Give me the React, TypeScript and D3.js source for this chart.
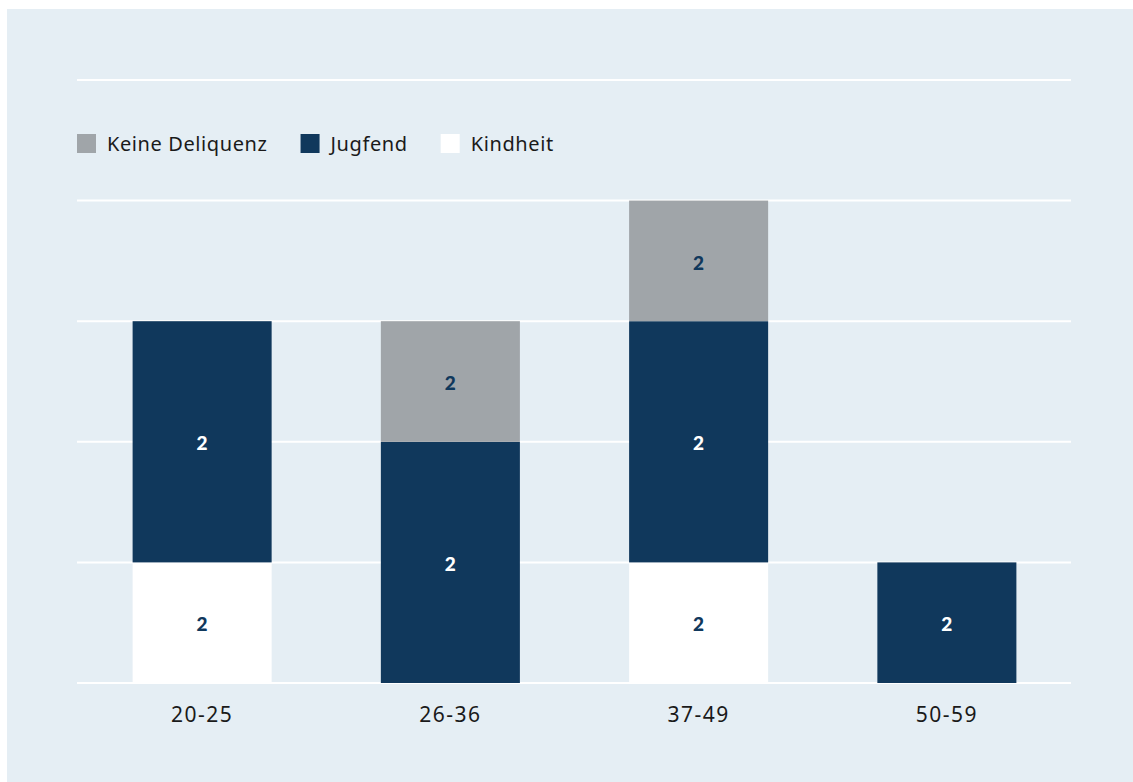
import * as React from 'react';
import * as d3 from 'd3';

const categories = ['20-25', '26-36', '37-49', '50-59'];
const seriesNames = ['Kindheit', 'Jugfend', 'Keine Deliquenz'];
const kindheit = [1, 0, 1, 0];
const jugfend = [2, 2, 2, 1];
const keineDeliquenz = [0, 1, 1, 0];
// the labels printed inside the segments
const segmentLabels = ['2', '2', '2'];
const legendOrder = ['Keine Deliquenz', 'Jugfend', 'Kindheit'];
const yTicks = [0, 1, 2, 3, 4, 5];

const colors: Record<string, string> = {
  'Keine Deliquenz': '#a0a5a9',
  Jugfend: '#10385c',
  Kindheit: '#ffffff',
};
const labelColors: Record<string, string> = {
  'Keine Deliquenz': '#10385c',
  Jugfend: '#ffffff',
  Kindheit: '#10385c',
};

const W = 1133;
const H = 782;
const margin = { left: 78, right: 62, top: 80, bottom: 99 };

export default function App() {
  const svgRef = React.useRef<SVGSVGElement>(null);

  React.useEffect(() => {
    if (!svgRef.current) return;
    const svg = d3.select(svgRef.current);
    svg.selectAll('*').remove();

    svg.append('rect').attr('x', 7).attr('y', 9).attr('width', W).attr('height', H).attr('fill', '#e5eef4');

    const x = d3
      .scaleBand()
      .domain(categories)
      .range([margin.left, W - margin.right])
      .paddingInner(0.44)
      .paddingOuter(0.22);
    const y = d3.scaleLinear().domain([0, 5]).range([H - margin.bottom, margin.top]);

    // gridlines
    svg
      .append('g')
      .selectAll('line')
      .data(yTicks)
      .enter()
      .append('line')
      .attr('x1', margin.left - 1)
      .attr('x2', W - margin.right)
      .attr('y1', (d) => y(d))
      .attr('y2', (d) => y(d))
      .attr('stroke', '#ffffff')
      .attr('stroke-width', 2);

    const rows = categories.map((c, i) => ({
      cat: c,
      Kindheit: kindheit[i],
      Jugfend: jugfend[i],
      'Keine Deliquenz': keineDeliquenz[i],
    }));
    const stack = d3.stack<any>().keys(seriesNames)(rows);

    stack.forEach((layer, li) => {
      const key = layer.key;
      const g = svg.append('g');
      const segs = layer.filter((d) => d[1] - d[0] > 0);
      g.selectAll('rect')
        .data(segs)
        .enter()
        .append('rect')
        .attr('x', (d) => x(d.data.cat)!)
        .attr('y', (d) => y(d[1]))
        .attr('width', x.bandwidth())
        .attr('height', (d) => y(d[0]) - y(d[1]))
        .attr('fill', colors[key]);
      g.selectAll('text')
        .data(segs)
        .enter()
        .append('text')
        .attr('x', (d) => x(d.data.cat)! + x.bandwidth() / 2)
        .attr('y', (d) => (y(d[0]) + y(d[1])) / 2 + 2)
        .attr('dy', '0.35em')
        .attr('text-anchor', 'middle')
        .attr('font-family', 'Lato, sans-serif')
        .attr('font-weight', 900)
        .attr('font-size', 19)
        .attr('fill', labelColors[key])
        .text(segmentLabels[li]);
    });

    // x axis labels
    svg
      .append('g')
      .selectAll('text')
      .data(categories)
      .enter()
      .append('text')
      .attr('x', (d) => x(d)! + x.bandwidth() / 2)
      .attr('y', H - margin.bottom + 39)
      .attr('text-anchor', 'middle')
      .attr('font-family', '"Noto Sans", sans-serif')
      .attr('font-size', 21)
      .attr('letter-spacing', 1.5)
      .attr('fill', '#1a1a1a')
      .text((d) => d);

    // legend
    const legend = svg.append('g').attr('transform', 'translate(77,134)');
    let lx = 0;
    legendOrder.forEach((name) => {
      const item = legend.append('g').attr('transform', `translate(${lx},0)`);
      item.append('rect').attr('width', 19).attr('height', 19).attr('fill', colors[name]);
      const t = item
        .append('text')
        .attr('x', 30)
        .attr('y', 9.5)
        .attr('dy', '0.35em')
        .attr('font-family', '"Noto Sans", sans-serif')
        .attr('font-size', 20)
        .attr('letter-spacing', 0.6)
        .attr('fill', '#1a1a1a')
        .text(name);
      const tw = (t.node() as SVGTextElement).getComputedTextLength();
      lx += 30 + tw + 33;
    });
  }, []);

  return (
    <svg
      ref={svgRef}
      width={W}
      height={H}
      style={{ position: 'absolute', left: 0, top: 0, display: 'block' }}
    />
  );
}
